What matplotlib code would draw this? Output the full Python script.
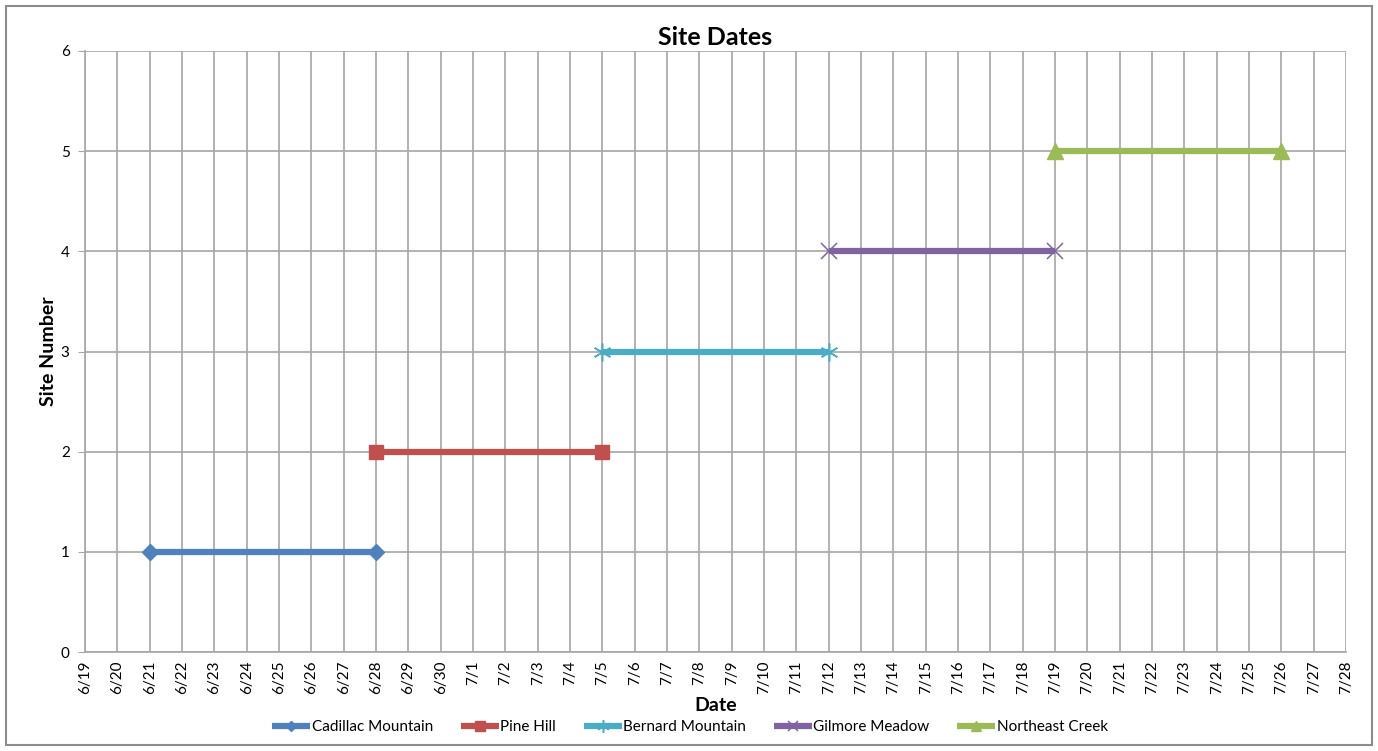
import matplotlib
matplotlib.use("Agg")
import matplotlib.pyplot as plt
import matplotlib.dates as mdates
from matplotlib.patches import Rectangle
from datetime import date, timedelta

plt.rcParams['font.family'] = ['Lato', 'DejaVu Sans']

sites = ["Cadillac Mountain", "Pine Hill", "Bernard Mountain", "Gilmore Meadow", "Northeast Creek"]
start_dates = [date(2012, 6, 21), date(2012, 6, 28), date(2012, 7, 5), date(2012, 7, 12), date(2012, 7, 19)]
end_dates = [date(2012, 6, 28), date(2012, 7, 5), date(2012, 7, 12), date(2012, 7, 19), date(2012, 7, 26)]
site_numbers = [1, 2, 3, 4, 5]
colors = ["#4F81BD", "#C0504D", "#4BACC6", "#8064A2", "#9BBB59"]
markers = ["D", "s", (6, 2, 0), "x", "^"]
msizes = [8, 10, 13, 11, 11]

fig = plt.figure(figsize=(13.78, 7.51), dpi=100)
ax = fig.add_axes([85/1378, 99/751, (1346-85)/1378, (652-51)/751])

for name, s, e, n, c, m, ms in zip(sites, start_dates, end_dates, site_numbers, colors, markers, msizes):
    thin = m in ("x", (6, 2, 0))
    ax.plot([s, e], [n, n], color=c, lw=4.5, marker=m, markersize=ms,
            markeredgecolor=c, markerfacecolor=c, markeredgewidth=1.1 if thin else 1.0,
            label=name, solid_capstyle='butt', zorder=3)

x0 = date(2012, 6, 19)
x1 = date(2012, 7, 28)
ax.set_xlim(x0, x1)
ax.set_ylim(0, 6)
ticks = [x0 + timedelta(days=i) for i in range((x1 - x0).days + 1)]
ax.set_xticks(ticks)
ax.xaxis.set_major_formatter(mdates.DateFormatter('%-m/%-d'))
ax.set_yticks(range(0, 7))
ax.grid(True, color="#A6A6A6", lw=1.2, zorder=0)
ax.set_axisbelow(True)
for sp in ["top", "right"]:
    ax.spines[sp].set_visible(False)
for sp in ["left", "bottom"]:
    ax.spines[sp].set_color("#A6A6A6")
    ax.spines[sp].set_linewidth(1.2)
ax.tick_params(axis='x', rotation=90, labelsize=11, length=0, pad=6)
ax.tick_params(axis='y', labelsize=11, length=5, color="#A6A6A6", pad=6)

ax.set_title("Site Dates", fontsize=18, fontweight='bold', pad=4)
ax.set_xlabel("Date", fontsize=14, fontweight='bold', labelpad=2)
ax.set_ylabel("Site Number", fontsize=14, fontweight='bold', labelpad=3)

leg = fig.legend(loc='center', bbox_to_anchor=(690/1378, 1 - 727/751), ncol=5, frameon=False,
                 fontsize=11, handlelength=2.5, handletextpad=0.1, columnspacing=1.8, markerscale=0.7)

fig.patches.append(Rectangle((6/1378, 6/751), 1366/1378, 739/751, transform=fig.transFigure,
                             fill=False, edgecolor="#8C8C8C", lw=1.5))

fig.savefig("out.png", dpi=100)
